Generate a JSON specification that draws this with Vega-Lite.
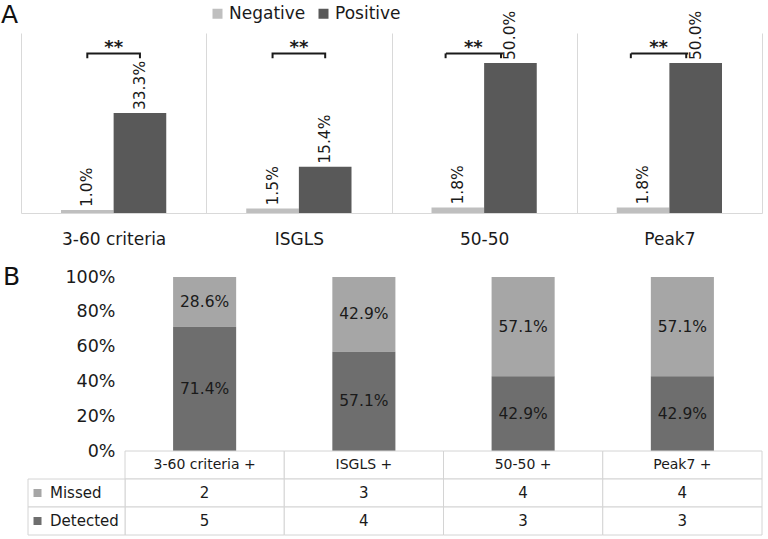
{
  "$schema": "https://vega.github.io/schema/vega-lite/v6.json",
  "padding": {"left": 1, "top": 3, "right": 0, "bottom": 0},
  "background": "white",
  "config": {"font": "DejaVu Sans", "view": {"stroke": null}, "axis": {"labelOverlap": false}},
  "datasets": {
    "rates": [
      {"method": "3-60 criteria", "group": "Negative", "rate": 0.010},
      {"method": "3-60 criteria", "group": "Positive", "rate": 0.333},
      {"method": "ISGLS", "group": "Negative", "rate": 0.015},
      {"method": "ISGLS", "group": "Positive", "rate": 0.154},
      {"method": "50-50", "group": "Negative", "rate": 0.018},
      {"method": "50-50", "group": "Positive", "rate": 0.500},
      {"method": "Peak7", "group": "Negative", "rate": 0.018},
      {"method": "Peak7", "group": "Positive", "rate": 0.500}
    ],
    "sig": [
      {"method": "3-60 criteria", "side": "Negative", "y": 0.516, "k": 0},
      {"method": "3-60 criteria", "side": "Negative", "y": 0.532, "k": 1},
      {"method": "3-60 criteria", "side": "Positive", "y": 0.532, "k": 2},
      {"method": "3-60 criteria", "side": "Positive", "y": 0.516, "k": 3},
      {"method": "ISGLS", "side": "Negative", "y": 0.516, "k": 0},
      {"method": "ISGLS", "side": "Negative", "y": 0.532, "k": 1},
      {"method": "ISGLS", "side": "Positive", "y": 0.532, "k": 2},
      {"method": "ISGLS", "side": "Positive", "y": 0.516, "k": 3}
    ],
    "sig2": [
      {"method": "50-50", "lo": 0.516, "hi": 0.532},
      {"method": "Peak7", "lo": 0.516, "hi": 0.532}
    ],
    "det": [
      {"method": "3-60 criteria", "status": "Missed", "n": 2, "pct": 0.286},
      {"method": "3-60 criteria", "status": "Detected", "n": 5, "pct": 0.714},
      {"method": "ISGLS", "status": "Missed", "n": 3, "pct": 0.429},
      {"method": "ISGLS", "status": "Detected", "n": 4, "pct": 0.571},
      {"method": "50-50", "status": "Missed", "n": 4, "pct": 0.571},
      {"method": "50-50", "status": "Detected", "n": 3, "pct": 0.429},
      {"method": "Peak7", "status": "Missed", "n": 4, "pct": 0.571},
      {"method": "Peak7", "status": "Detected", "n": 3, "pct": 0.429}
    ],
    "methods": [
      {"method": "3-60 criteria", "header": "3-60 criteria +"},
      {"method": "ISGLS", "header": "ISGLS +"},
      {"method": "50-50", "header": "50-50 +"},
      {"method": "Peak7", "header": "Peak7 +"}
    ],
    "rowlabels": [
      {"status": "Missed"},
      {"status": "Detected"}
    ]
  },
  "vconcat": [
    {
      "width": 741,
      "height": 180,
      "title": {"text": "A", "anchor": "start", "frame": "group", "fontSize": 25, "fontWeight": "normal", "color": "#111111", "dx": -20, "dy": 43, "baseline": "alphabetic", "offset": 0},
      "layer": [
        {
          "data": {"name": "rates"},
          "mark": {"type": "bar"},
          "encoding": {
            "x": {"field": "method", "type": "nominal", "scale": {"domain": ["3-60 criteria", "ISGLS", "50-50", "Peak7"], "paddingInner": 0, "paddingOuter": 0},
                  "axis": {"title": null, "tickBand": "extent", "grid": true, "gridColor": "#d9d9d9", "ticks": false, "tickSize": 0, "domainColor": "#d9d9d9", "labelFontSize": 17, "labelColor": "#1a1a1a", "labelPadding": 18, "labelAngle": 0}},
            "xOffset": {"field": "group", "type": "nominal", "scale": {"domain": ["Negative", "Positive"], "paddingInner": 0, "paddingOuter": 0.76}},
            "y": {"field": "rate", "type": "quantitative", "scale": {"domain": [0, 0.6]}, "axis": null},
            "color": {"field": "group", "type": "nominal", "scale": {"domain": ["Negative", "Positive"], "range": ["#bfbfbf", "#595959"]},
                      "legend": {"title": null, "orient": "none", "legendX": 188, "legendY": -28, "direction": "horizontal", "symbolType": "square", "symbolSize": 100, "symbolStrokeWidth": 0, "labelFontSize": 17, "labelColor": "#1a1a1a", "labelOffset": 3, "columnPadding": 9, "padding": 0}}
          }
        },
        {
          "data": {"name": "rates"},
          "mark": {"type": "text", "angle": 270, "align": "left", "baseline": "middle", "dx": 3, "fontSize": 15.5, "color": "#1a1a1a"},
          "encoding": {
            "x": {"field": "method", "type": "nominal"},
            "xOffset": {"field": "group", "type": "nominal"},
            "y": {"field": "rate", "type": "quantitative"},
            "text": {"field": "rate", "type": "quantitative", "format": ".1%"}
          }
        },
        {
          "data": {"name": "sig"},
          "mark": {"type": "line", "color": "#1a1a1a", "strokeWidth": 2},
          "encoding": {
            "x": {"field": "method", "type": "nominal"},
            "xOffset": {"field": "side", "type": "nominal"},
            "y": {"field": "y", "type": "quantitative"},
            "detail": {"field": "method"},
            "order": {"field": "k", "type": "quantitative"}
          }
        },
        {
          "data": {"name": "sig2"},
          "mark": {"type": "tick", "color": "#1a1a1a", "thickness": 2, "size": 57, "opacity": 1, "xOffset": -9.7},
          "encoding": {
            "x": {"field": "method", "type": "nominal"},
            "y": {"field": "hi", "type": "quantitative"}
          }
        },
        {
          "data": {"name": "sig2"},
          "mark": {"type": "rule", "color": "#1a1a1a", "strokeWidth": 2},
          "encoding": {
            "x": {"field": "method", "type": "nominal", "bandPosition": 0.292},
            "y": {"field": "lo", "type": "quantitative"},
            "y2": {"field": "hi"}
          }
        },
        {
          "data": {"name": "sig2"},
          "mark": {"type": "rule", "color": "#1a1a1a", "strokeWidth": 2},
          "encoding": {
            "x": {"field": "method", "type": "nominal", "bandPosition": 0.591},
            "y": {"field": "lo", "type": "quantitative"},
            "y2": {"field": "hi"}
          }
        },
        {
          "data": {"name": "methods"},
          "transform": [{"filter": "datum.method == '3-60 criteria' || datum.method == 'ISGLS'"}],
          "mark": {"type": "text", "text": "**", "fontSize": 18, "fontWeight": "bold", "baseline": "alphabetic", "color": "#1a1a1a"},
          "encoding": {
            "x": {"field": "method", "type": "nominal"},
            "y": {"datum": 0.532, "type": "quantitative"}
          }
        },
        {
          "data": {"name": "methods"},
          "transform": [{"filter": "datum.method == '50-50' || datum.method == 'Peak7'"}],
          "mark": {"type": "text", "text": "**", "fontSize": 18, "fontWeight": "bold", "baseline": "alphabetic", "color": "#1a1a1a"},
          "encoding": {
            "x": {"field": "method", "type": "nominal", "bandPosition": 0.4415},
            "y": {"datum": 0.532, "type": "quantitative"}
          }
        }
      ]
    },
    {
      "vconcat": [
        {
          "width": 741,
          "height": 174,
          "title": {"text": "B", "anchor": "start", "frame": "group", "fontSize": 25, "fontWeight": "normal", "color": "#111111", "dx": -18, "baseline": "alphabetic", "offset": 0, "dy": 42},
          "data": {"name": "det"},
          "encoding": {
            "x": {"field": "method", "type": "nominal", "scale": {"domain": ["3-60 criteria", "ISGLS", "50-50", "Peak7"], "range": [104, 741], "paddingInner": 0.604, "paddingOuter": 0.302}, "axis": null},
            "y": {"field": "pct", "type": "quantitative", "stack": "zero", "scale": {"domain": [0, 1]},
                  "axis": {"title": null, "values": [0, 0.2, 0.4, 0.6, 0.8, 1], "format": ".0%", "domain": false, "ticks": false, "tickSize": 0, "grid": false, "labelPadding": 0, "offset": -94, "labelFontSize": 17.5, "labelColor": "#1a1a1a", "labelOverlap": false, "labelBound": false, "labelFlush": false}},
            "order": {"field": "status", "sort": "ascending"}
          },
          "layer": [
            {
              "mark": {"type": "bar"},
              "encoding": {
                "color": {"field": "status", "type": "nominal", "scale": {"domain": ["Missed", "Detected"], "range": ["#a6a6a6", "#6e6e6e"]}, "legend": null}
              }
            },
            {
              "mark": {"type": "text", "fontSize": 15.5, "color": "#1a1a1a"},
              "encoding": {
                "y": {"field": "pct", "type": "quantitative", "stack": "zero", "bandPosition": 0.5},
                "detail": {"field": "status"},
                "text": {"field": "pct", "type": "quantitative", "format": ".1%"}
              }
            }
          ]
        },
        {
          "width": 741,
          "height": 84,
          "layer": [
            {
              "layer": [
                {
                  "data": {"name": "methods"},
                  "mark": {"type": "rect", "fill": "white", "stroke": "#d4d4d4", "strokeWidth": 1},
                  "encoding": {
                    "x": {"field": "method", "type": "nominal", "scale": {"domain": ["3-60 criteria", "ISGLS", "50-50", "Peak7"], "range": [104, 741], "paddingInner": 0, "paddingOuter": 0}, "axis": null},
                    "y": {"datum": "header", "type": "nominal", "scale": {"domain": ["header", "Missed", "Detected"], "paddingInner": 0, "paddingOuter": 0}, "axis": null}
                  }
                },
                {
                  "data": {"name": "det"},
                  "mark": {"type": "rect", "fill": "white", "stroke": "#d4d4d4", "strokeWidth": 1},
                  "encoding": {
                    "x": {"field": "method", "type": "nominal"},
                    "y": {"field": "status", "type": "nominal"}
                  }
                },
                {
                  "data": {"name": "methods"},
                  "mark": {"type": "text", "fontSize": 14, "color": "#1a1a1a"},
                  "encoding": {
                    "x": {"field": "method", "type": "nominal"},
                    "y": {"datum": "header", "type": "nominal"},
                    "text": {"field": "header"}
                  }
                },
                {
                  "data": {"name": "det"},
                  "mark": {"type": "text", "fontSize": 15, "color": "#1a1a1a"},
                  "encoding": {
                    "x": {"field": "method", "type": "nominal"},
                    "y": {"field": "status", "type": "nominal"},
                    "text": {"field": "n", "type": "quantitative"}
                  }
                }
              ]
            },
            {
              "layer": [
                {
                  "data": {"name": "rowlabels"},
                  "mark": {"type": "rect", "fill": "white", "stroke": "#d4d4d4", "strokeWidth": 1},
                  "encoding": {
                    "x": {"datum": "label", "type": "nominal", "scale": {"domain": ["label"], "range": [7, 104], "paddingInner": 0, "paddingOuter": 0}, "axis": null},
                    "y": {"field": "status", "type": "nominal"}
                  }
                },
                {
                  "data": {"name": "rowlabels"},
                  "mark": {"type": "point", "shape": "square", "filled": true, "size": 64, "opacity": 1},
                  "encoding": {
                    "x": {"datum": "label", "type": "nominal", "bandPosition": 0.098},
                    "y": {"field": "status", "type": "nominal"},
                    "color": {"field": "status", "type": "nominal", "scale": {"domain": ["Missed", "Detected"], "range": ["#a6a6a6", "#6e6e6e"]}, "legend": null}
                  }
                },
                {
                  "data": {"name": "rowlabels"},
                  "mark": {"type": "text", "fontSize": 15, "align": "left", "color": "#1a1a1a", "dx": 22},
                  "encoding": {
                    "x": {"datum": "label", "type": "nominal", "bandPosition": 0},
                    "y": {"field": "status", "type": "nominal"},
                    "text": {"field": "status"}
                  }
                }
              ]
            }
          ],
          "resolve": {"scale": {"x": "independent"}}
        }
      ],
      "spacing": 0,
      "bounds": "flush",
      "resolve": {"scale": {"x": "independent", "y": "independent", "color": "independent"}}
    }
  ],
  "spacing": 64,
  "bounds": "flush",
  "resolve": {"scale": {"x": "independent", "y": "independent", "color": "independent"}}
}
